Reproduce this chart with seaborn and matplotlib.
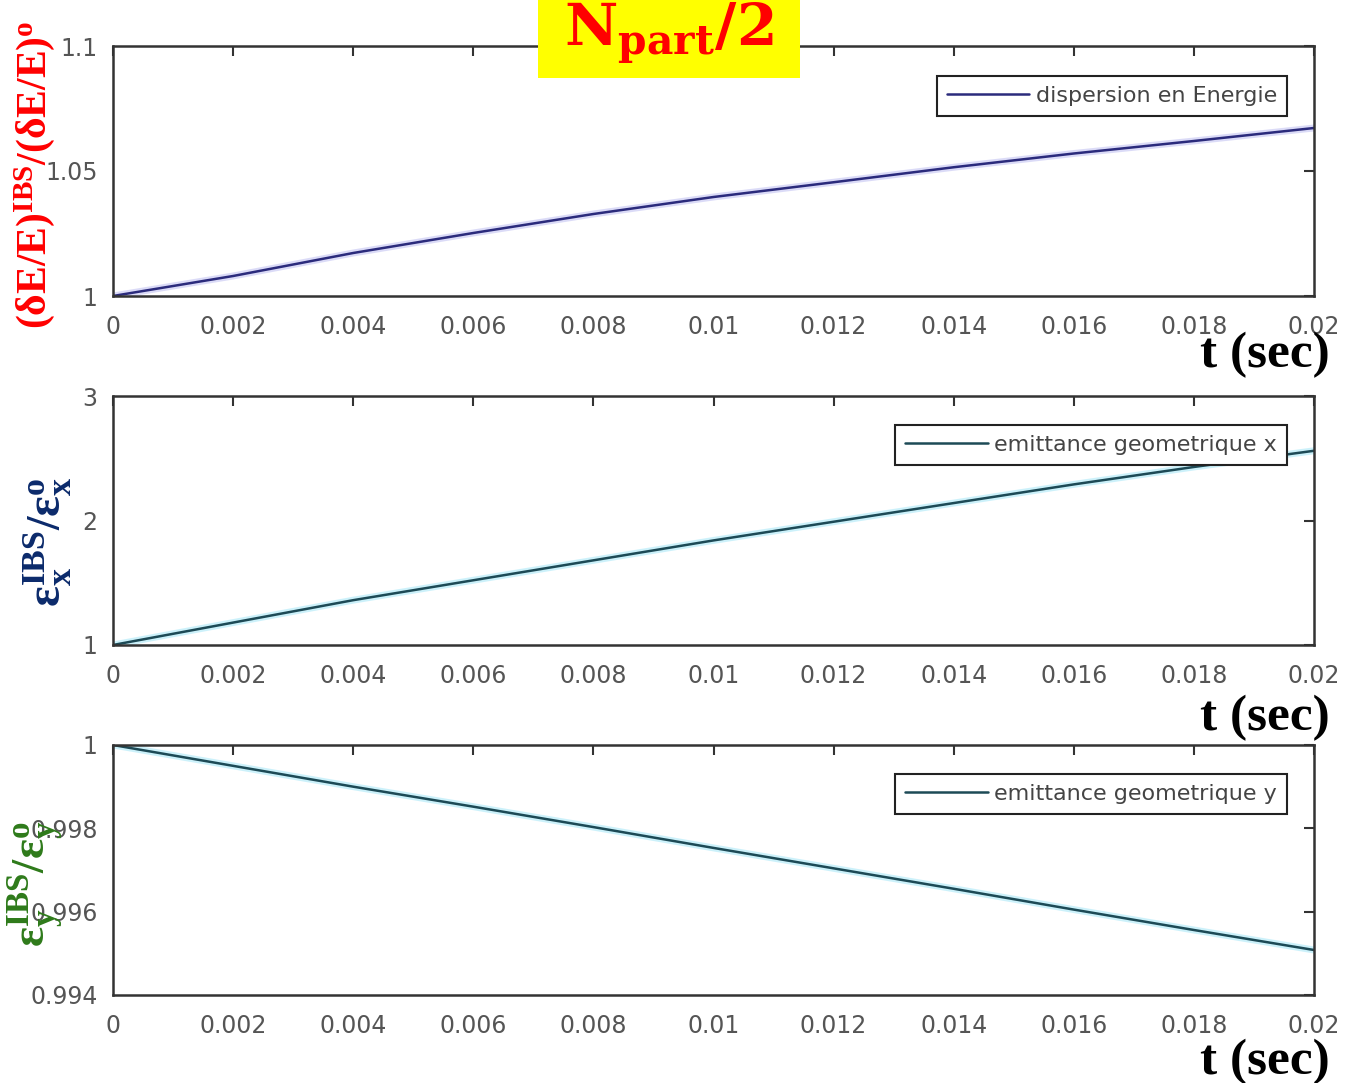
import matplotlib

matplotlib.use("Agg")

import matplotlib.pyplot as plt
import pandas as pd
import seaborn as sns
from matplotlib.patches import Rectangle

# values
t_sec = [0.0, 0.002, 0.004, 0.006, 0.008, 0.010, 0.012, 0.014, 0.016, 0.018, 0.020]
energy_ratio = [1.0, 1.008, 1.0172, 1.0252, 1.0328, 1.0396, 1.0455, 1.0515, 1.0570, 1.0620, 1.0672]
emit_x_ratio = [1.0, 1.18, 1.36, 1.52, 1.68, 1.84, 1.99, 2.14, 2.29, 2.43, 2.56]
emit_y_ratio = [1.0, 0.9995, 0.9990, 0.99852, 0.99803, 0.99753, 0.99704, 0.99655, 0.99605, 0.99556, 0.99508]

legend_labels = ["dispersion en Energie", "emittance geometrique x", "emittance geometrique y"]
x_ticks = [0, 0.002, 0.004, 0.006, 0.008, 0.01, 0.012, 0.014, 0.016, 0.018, 0.02]
x_tick_labels = ["0", "0.002", "0.004", "0.006", "0.008", "0.01", "0.012", "0.014", "0.016", "0.018", "0.02"]
y_ticks = [[1, 1.05, 1.1], [1, 2, 3], [0.994, 0.996, 0.998, 1]]
y_tick_labels = [["1", "1.05", "1.1"], ["1", "2", "3"], ["0.994", "0.996", "0.998", "1"]]
y_limits = [(1, 1.1), (1, 3), (0.994, 1)]

y_labels = [
    r"$\mathbf{(\delta E/E)^{IBS}/(\delta E/E)^{o}}$",
    r"$\mathbf{\epsilon_{x}^{IBS}/\epsilon_{x}^{o}}$",
    r"$\mathbf{\epsilon_{y}^{IBS}/\epsilon_{y}^{o}}$",
]
title_text = r"$\mathsf{N_{part}/2}$"
y_label_colors = ["#ff0000", "#0b2a6b", "#2e7a1a"]
line_colors = ["#2b2b7c", "#1d4a56", "#1d4a56"]
glow_colors = ["#b8b8f0", "#9be4f7", "#9be4f7"]

sns.set_style("white")
plt.rcParams["font.family"] = ["DejaVu Sans"]
plt.rcParams["mathtext.fontset"] = "custom"
plt.rcParams["mathtext.rm"] = "Liberation Serif:bold"
plt.rcParams["mathtext.it"] = "Liberation Serif:bold"
plt.rcParams["mathtext.bf"] = "Liberation Serif:bold"
plt.rcParams["mathtext.sf"] = "DejaVu Serif:bold"

W, H = 1349, 1083
fig = plt.figure(figsize=(W / 100, H / 100), dpi=100)
fig.patch.set_facecolor("white")

df = pd.DataFrame({"t": t_sec, "E": energy_ratio, "ex": emit_x_ratio, "ey": emit_y_ratio})
columns = ["E", "ex", "ey"]

left, right = 113, 1314
panels = [(46, 296), (396, 645), (745, 995)]
legend_corners = [(1287, 76), (1287, 425), (1287, 774)]
ylabel_pos = [(35, 175), (48, 542), (36, 884)]
ylabel_sizes = [30, 35, 34]
tsec_y = [355, 718, 1062]

for i, (top, bottom) in enumerate(panels):
    ax = fig.add_axes([left / W, 1 - bottom / H, (right - left) / W, (bottom - top) / H])
    sns.lineplot(data=df, x="t", y=columns[i], ax=ax, color=glow_colors[i], linewidth=5, alpha=0.5)
    sns.lineplot(data=df, x="t", y=columns[i], ax=ax, color=line_colors[i], linewidth=1.8,
                 label=legend_labels[i])
    ax.set_xlim(0, 0.02)
    ax.set_ylim(*y_limits[i])
    ax.set_xticks(x_ticks)
    ax.set_xticklabels(x_tick_labels)
    ax.set_yticks(y_ticks[i])
    ax.set_yticklabels(y_tick_labels[i])
    ax.set_xlabel("")
    ax.set_ylabel("")
    ax.tick_params(axis="both", direction="in", length=7, width=1.5, colors="#333333",
                   labelcolor="#555555", labelsize=17, top=True, right=True)
    ax.tick_params(axis="x", pad=14)
    ax.tick_params(axis="y", pad=11)
    for spine in ax.spines.values():
        spine.set_color("#333333")
        spine.set_linewidth(1.8)
    lx, ly = legend_corners[i]
    leg = ax.legend(loc="upper right", bbox_to_anchor=(lx / W, 1 - ly / H),
                    bbox_transform=fig.transFigure, borderaxespad=0, fontsize=16,
                    handlelength=3.7, handletextpad=0.3, borderpad=0.45,
                    fancybox=False, framealpha=1, edgecolor="#222222")
    leg.get_frame().set_linewidth(1.5)
    for txt in leg.get_texts():
        txt.set_color("#444444")

    px, py = ylabel_pos[i]
    fig.text(px / W, 1 - py / H, y_labels[i], rotation=90, ha="center", va="center",
             fontsize=ylabel_sizes[i], color=y_label_colors[i], zorder=10)
    fig.text(1330 / W, 1 - tsec_y[i] / H, "t (sec)", ha="right", va="center",
             fontsize=37, fontweight="bold", family="Liberation Serif", color="black", zorder=10)

# yellow title box on top of the first panel
box = Rectangle((538 / W, 1 - 78 / H), 262 / W, 78 / H, transform=fig.transFigure,
                facecolor="#ffff00", edgecolor="none", zorder=20)
fig.patches.append(box)
fig.text(669 / W, 1 - 46 / H, title_text, ha="center", va="baseline",
         fontsize=42, color="#ff0000", zorder=21)

fig.savefig("out.png", dpi=100)
